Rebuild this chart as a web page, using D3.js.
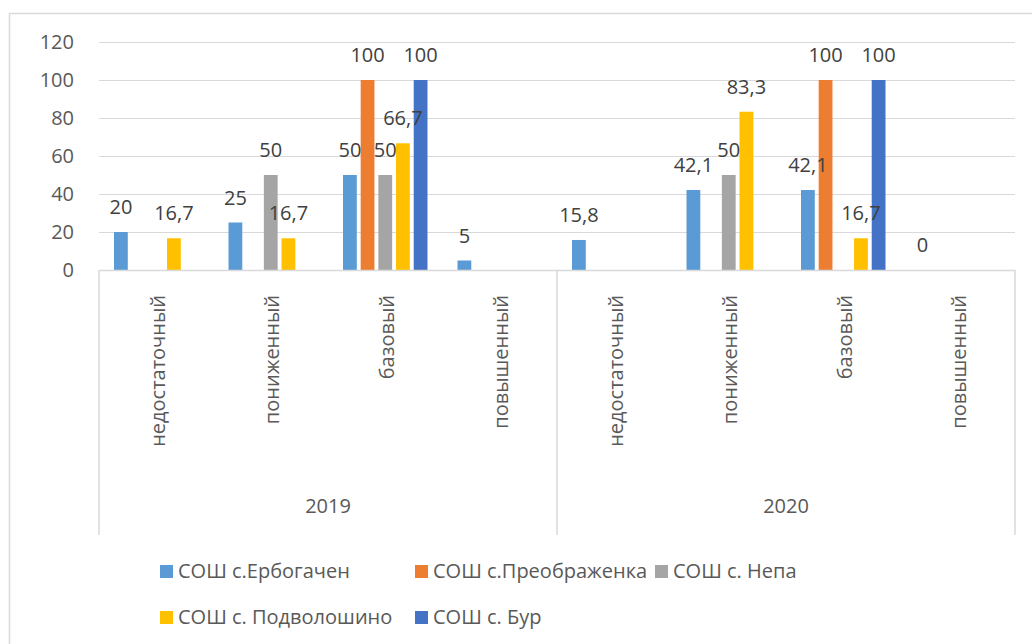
<!DOCTYPE html>
<html>
<head>
<meta charset="utf-8">
<script src="https://cdn.jsdelivr.net/npm/d3@7"></script>
<style>
  html, body { margin: 0; padding: 0; background: #fff; }
  svg { display: block; }
  text { font-family: "Open Sans", "Noto Sans", sans-serif; }
</style>
</head>
<body>
<svg id="chart" width="1032" height="644"></svg>
<script>
// ---- data ----
const years = ["2019", "2020"];
const levels = ["недостаточный", "пониженный", "базовый", "повышенный"];
const seriesNames = ["СОШ с.Ербогачен", "СОШ с.Преображенка", "СОШ с. Непа", "СОШ с. Подволошино", "СОШ с. Бур"];
const seriesColors = ["#5B9BD5", "#ED7D31", "#A5A5A5", "#FFC000", "#4472C4"];
// values per category in order: 2019 x 4 levels, then 2020 x 4 levels (null = no bar)
const erbogachen   = [20, 25, 50, 5, 15.8, 42.1, 42.1, 0];
const preobr       = [null, null, 100, null, null, null, 100, null];
const nepa         = [null, 50, 50, null, null, 50, null, null];
const podvoloshino = [16.7, 16.7, 66.7, null, null, 83.3, 16.7, null];
const bur          = [null, null, 100, null, null, null, 100, null];
const yTicks = [0, 20, 40, 60, 80, 100, 120];

const seriesValues = [erbogachen, preobr, nepa, podvoloshino, bur];
const categories = [];
years.forEach(yr => levels.forEach(l => categories.push(yr + "|" + l)));

const svg = d3.select("#chart");
const pLeft = 99, pRight = 1015, pTop = 42, pBottom = 270;

const y = d3.scaleLinear().domain([0, 120]).range([pBottom, pTop]);
const x0 = d3.scaleBand().domain(categories).range([pLeft, pRight]).padding(0);
const x1 = d3.scaleBand().domain(seriesNames)
  .range([15, x0.bandwidth() - 15]).paddingInner(0.22).paddingOuter(0);

const gridColor = "#d9d9d9";

// outer border
svg.append("path")
  .attr("d", "M1032,13.5 H9.5 V644")
  .attr("fill", "none").attr("stroke", gridColor).attr("stroke-width", 1.5);

// gridlines
svg.append("g").selectAll("line").data(yTicks.filter(d => d > 0)).join("line")
  .attr("x1", pLeft).attr("x2", pRight)
  .attr("y1", d => y(d) + 0.5).attr("y2", d => y(d) + 0.5)
  .attr("stroke", gridColor).attr("stroke-width", 1.2);

// y axis labels
const yAxis = d3.axisLeft(y).tickValues(yTicks).tickSize(0).tickPadding(25);
const gy = svg.append("g").attr("transform", `translate(${pLeft},0)`).call(yAxis);
gy.select(".domain").remove();
gy.selectAll("text")
  .attr("fill", "#595959").attr("font-size", 20)
  .attr("font-family", '"Open Sans", sans-serif');

// bars
const barsG = svg.append("g");
seriesNames.forEach((s, si) => {
  const vals = seriesValues[si];
  const data = categories.map((c, i) => ({ c, v: vals[i] })).filter(d => d.v !== null);
  barsG.append("g").selectAll("rect").data(data).join("rect")
    .attr("x", d => x0(d.c) + x1(s))
    .attr("width", x1.bandwidth())
    .attr("y", d => y(d.v))
    .attr("height", d => y(0) - y(d.v))
    .attr("fill", seriesColors[si]);
});

// category axis line
svg.append("line")
  .attr("x1", pLeft).attr("x2", pRight).attr("y1", pBottom + 0.5).attr("y2", pBottom + 0.5)
  .attr("stroke", gridColor).attr("stroke-width", 1.5);

// group separators
const sepX = [pLeft, x0(categories[4]), pRight];
svg.append("g").selectAll("line").data(sepX).join("line")
  .attr("x1", d => d).attr("x2", d => d)
  .attr("y1", pBottom).attr("y2", 535)
  .attr("stroke", gridColor).attr("stroke-width", 1.5);

// data labels
const fmt = v => String(v).replace(".", ",");
const labelsG = svg.append("g");
seriesNames.forEach((s, si) => {
  const vals = seriesValues[si];
  const data = categories.map((c, i) => ({ c, v: vals[i] })).filter(d => d.v !== null);
  labelsG.append("g").selectAll("text").data(data).join("text")
    .attr("x", d => x0(d.c) + x1(s) + x1.bandwidth() / 2)
    .attr("y", d => y(d.v) - 18)
    .attr("text-anchor", "middle")
    .attr("font-size", 20)
    .attr("fill", "#404040")
    .text(d => fmt(d.v));
});

// category labels (rotated)
svg.append("g").selectAll("text").data(categories).join("text")
  .attr("transform", d => `translate(${x0(d) + x0.bandwidth() / 2 + 1.5},295) rotate(-90)`)
  .attr("text-anchor", "end")
  .attr("dy", "0.35em")
  .attr("font-size", 20)
  .attr("fill", "#595959")
  .text(d => d.split("|")[1]);

// year labels
svg.append("g").selectAll("text").data(years).join("text")
  .attr("x", (d, i) => (sepX[i] + sepX[i + 1]) / 2)
  .attr("y", 513)
  .attr("text-anchor", "middle")
  .attr("font-size", 20)
  .attr("fill", "#595959")
  .text(d => d);

// legend
const legendPos = [[160, 571], [415, 571], [655, 571], [160, 617], [415, 617]];
const lg = svg.append("g").selectAll("g").data(seriesNames).join("g")
  .attr("transform", (d, i) => `translate(${legendPos[i][0]},${legendPos[i][1]})`);
lg.append("rect").attr("x", 0).attr("y", -6).attr("width", 13).attr("height", 13)
  .attr("fill", (d, i) => seriesColors[i]);
lg.append("text").attr("x", 18).attr("y", 7)
  .attr("font-size", 20).attr("fill", "#595959")
  .text(d => d);
</script>
</body>
</html>
